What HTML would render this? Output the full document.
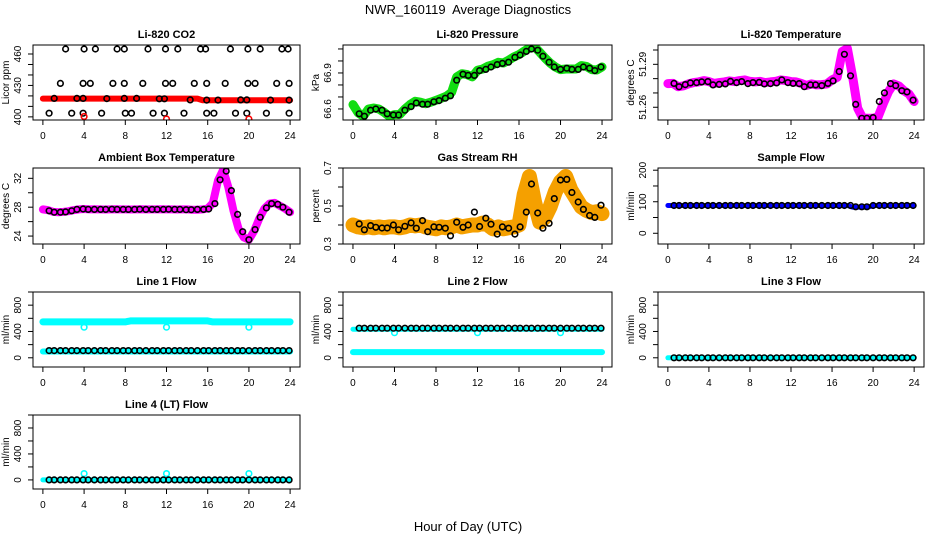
<!DOCTYPE html>
<html><head><meta charset="utf-8"><style>
html,body{margin:0;padding:0;background:#fff;}
svg{display:block;font-family:"Liberation Sans",sans-serif;}
</style></head><body>
<svg id="chart" width="936" height="540" viewBox="0 0 936 540">
<text x="468" y="14" text-anchor="middle" font-size="13">NWR_160119&#160; Average Diagnostics</text>
<text x="468" y="531" text-anchor="middle" font-size="13">Hour of Day (UTC)</text>
</svg>
<script>
const hours = [0.6,1.1,1.7,2.2,2.8,3.3,3.9,4.4,5,5.6,6.1,6.7,7.2,7.8,8.3,8.9,9.4,10,10.6,11.1,11.7,12.2,12.8,13.3,13.9,14.4,15,15.6,16.1,16.7,17.2,17.8,18.3,18.9,19.4,20,20.6,21.1,21.7,22.2,22.8,23.3,23.9];
const denseHours = [0,0.5,1,1.5,2,2.5,3,3.5,4,4.5,5,5.5,6,6.5,7,7.5,8,8.5,9,9.5,10,10.5,11,11.5,12,12.5,13,13.5,14,14.5,15,15.5,16,16.5,17,17.5,18,18.5,19,19.5,20,20.5,21,21.5,22,22.5,23,23.5,24];
const xTicks = [0,4,8,12,16,20,24];

const co2Band = [417.4,417.4,417.4,417.4,417.4,417.4,417.4,417.4,417.4,417.4,417.4,417.4,417.4,417.4,417.4,417.4,417.4,417.4,417.4,417.4,417.4,417.4,417.4,417.4,417.4,417.4,417.4,417.4,417.4,417.4,417.4,415.9,415.9,415.9,415.9,415.9,415.9,415.9,415.9,415.9,415.9,415.9,415.9,415.9,415.9,415.9,415.9,415.9,415.9];
const co2Hours = [2.2,4.0,5.1,7.2,7.9,10.2,11.9,13.1,15.3,15.8,18.2,19.9,21.1,23.2,23.8, 1.7,3.9,4.6,6.8,7.9,9.7,11.9,12.6,14.7,15.9,17.7,19.9,20.6,22.7,23.9, 0.6,2.8,3.9,5.7,8.0,8.6,10.7,11.8,13.7,15.9,16.6,18.7,19.8,21.7,23.9, 1.1,3.3,3.9,6.2,7.9,9.1,11.3,11.8,14.3,15.9,17,19.2,19.8,22.1,23.9];
const co2Vals = [464.8,464.8,464.8,464.8,464.8,464.8,464.8,464.8,464.8,464.8,464.8,464.8,464.8,464.8,464.8, 431.9,431.9,431.9,431.9,431.9,431.9,431.9,431.9,431.9,431.9,431.9,431.9,431.9,431.9,431.9, 403.5,403.5,403.5,403.5,403.5,403.5,403.5,403.5,403.5,403.5,403.5,403.5,403.5,403.5,403.5, 417.6,417.6,417.6,417.4,417.6,417.6,417.2,417.2,416.2,416,416,416.2,416.2,416,416];
const refHours = [4,12,20];
const co2RefVals = [400.3,398,398];

const pressureDense = [66.636,66.567,66.539,66.6,66.608,66.6,66.572,66.539,66.553,66.553,66.6,66.636,66.664,66.656,66.644,66.656,66.672,66.689,66.706,66.739,66.867,66.894,66.886,66.867,66.922,66.933,66.956,66.969,66.989,66.983,67.006,67.033,67.053,67.081,67.108,67.117,67.072,67.025,66.983,66.95,66.928,66.933,66.933,66.933,66.961,66.955,66.928,66.925,66.95];
const pressureBlack = [66.56,66.54,66.59,66.60,66.59,66.56,66.55,66.55,66.59,66.62,66.65,66.64,66.64,66.66,66.67,66.69,66.71,66.84,66.89,66.88,66.88,66.92,66.93,66.95,66.97,66.98,66.99,67.03,67.05,67.08,67.1,67.09,67.04,66.99,66.95,66.93,66.94,66.93,66.93,66.95,66.94,66.92,66.95];

const tempDense = [51.2765,51.2767,51.2744,51.2749,51.2763,51.2772,51.2777,51.2786,51.2779,51.2767,51.2772,51.2777,51.2784,51.2779,51.2786,51.2791,51.2781,51.2777,51.2781,51.2772,51.2777,51.2781,51.2791,51.2786,51.2779,51.2777,51.2767,51.2753,51.2763,51.2756,51.2758,51.2763,51.2791,51.2809,51.299,51.301,51.2814,51.2593,51.2523,51.2523,51.2523,51.2535,51.2628,51.2709,51.2763,51.2749,51.2716,51.2693,51.264];
const tempBlack = [51.2767,51.2744,51.2758,51.2770,51.2772,51.2777,51.2779,51.2756,51.2760,51.2763,51.2781,51.2772,51.2779,51.2765,51.2772,51.2774,51.2763,51.2765,51.2770,51.2791,51.2772,51.2767,51.2765,51.2744,51.2756,51.2756,51.2751,51.2767,51.2784,51.285,51.297,51.282,51.262,51.2523,51.2523,51.2528,51.264,51.270,51.2765,51.2751,51.2716,51.2707,51.265];

const ambientDense = [27.7,27.6,27.35,27.3,27.35,27.45,27.6,27.7,27.75,27.7,27.72,27.7,27.68,27.7,27.72,27.7,27.7,27.68,27.7,27.72,27.7,27.7,27.7,27.72,27.7,27.7,27.68,27.7,27.7,27.65,27.65,27.7,27.8,28.6,31.7,33.2,30.8,27.5,25.0,23.8,23.5,24.7,26.4,27.8,28.5,28.6,28.2,27.8,27.3];
const ambientBlack = [27.5,27.3,27.3,27.35,27.5,27.7,27.75,27.7,27.7,27.7,27.7,27.72,27.7,27.7,27.7,27.7,27.72,27.7,27.7,27.7,27.7,27.72,27.7,27.7,27.65,27.65,27.7,27.7,27.75,28.5,31.8,33.0,30.3,27.0,24.6,23.5,24.9,26.6,27.9,28.5,28.4,28.0,27.3];

const rhDense = [0.40,0.39,0.385,0.39,0.385,0.39,0.385,0.39,0.39,0.385,0.39,0.40,0.395,0.40,0.39,0.385,0.38,0.39,0.385,0.39,0.40,0.39,0.395,0.40,0.40,0.41,0.40,0.38,0.39,0.38,0.385,0.39,0.40,0.56,0.655,0.52,0.415,0.44,0.495,0.575,0.628,0.655,0.584,0.54,0.495,0.477,0.465,0.47,0.46];
const rhBlack = [0.406,0.375,0.397,0.388,0.384,0.384,0.40,0.375,0.393,0.411,0.383,0.423,0.365,0.39,0.388,0.383,0.343,0.415,0.388,0.40,0.468,0.392,0.436,0.404,0.352,0.39,0.383,0.352,0.39,0.468,0.616,0.463,0.383,0.409,0.539,0.637,0.64,0.571,0.521,0.482,0.45,0.44,0.504];

const sampleDense = [88,88,88,88,88,88,88,88,88,88,88,88,88,88,88,88,88,88,88,88,88,88,88,88,88,88,88,88,88,88,88,88,88,88,88,88,83,83,83,83,88,88,88,88,88,88,88,88,88];
const sampleBlack = [88,88,88,88,88,88,88,88,88,88,88,88,88,88,88,88,88,88,88,88,88,88,88,88,88,88,88,88,88,88,88,88,84,84,84,88,88,88,88,88,88,88,88];

const line1Upper = [545,545,545,545,545,545,545,545,545,545,545,545,545,545,545,545,545,560,560,560,560,560,560,560,560,560,560,560,560,560,560,560,560,545,545,545,545,545,545,545,545,545,545,545,545,545,545,545,545];
const line1Lower = [96,96,96,96,96,96,96,96,96,96,96,96,96,96,96,96,96,96,96,96,96,96,96,96,96,96,96,96,96,96,96,96,96,96,96,96,96,96,96,96,96,96,96,96,96,96,96,96,96];
const line1Black = [110,110,110,110,110,110,110,110,110,110,110,110,110,110,110,110,110,110,110,110,110,110,110,110,110,110,110,110,110,110,110,110,110,110,110,110,110,110,110,110,110,110,110];
const line1Ref = [465,465,465];

const line2Upper = [435,435,435,435,435,435,435,435,435,435,435,435,435,435,435,435,435,435,435,435,435,435,435,435,435,435,435,435,435,435,435,435,435,435,435,435,435,435,435,435,435,435,435,435,435,435,435,435,435];
const line2Lower = [87,87,87,87,87,87,87,87,87,87,87,87,87,87,87,87,87,87,87,87,87,87,87,87,87,87,87,87,87,87,87,87,87,87,87,87,87,87,87,87,87,87,87,87,87,87,87,87,87];
const line2Black = [450,450,450,450,450,450,450,450,450,450,450,450,450,450,450,450,450,450,450,450,450,450,450,450,450,450,450,450,450,450,450,450,450,450,450,450,450,450,450,450,450,450,450];
const line2Ref = [381,381,381];

const line3Cyan = [0,0,0,0,0,0,0,0,0,0,0,0,0,0,0,0,0,0,0,0,0,0,0,0,0,0,0,0,0,0,0,0,0,0,0,0,0,0,0,0,0,0,0,0,0,0,0,0,0];
const line3Black = [0,0,0,0,0,0,0,0,0,0,0,0,0,0,0,0,0,0,0,0,0,0,0,0,0,0,0,0,0,0,0,0,0,0,0,0,0,0,0,0,0,0,0];
const line4Cyan = [0,0,0,0,0,0,0,0,0,0,0,0,0,0,0,0,0,0,0,0,0,0,0,0,0,0,0,0,0,0,0,0,0,0,0,0,0,0,0,0,0,0,0,0,0,0,0,0,0];
const line4Black = [0,0,0,0,0,0,0,0,0,0,0,0,0,0,0,0,0,0,0,0,0,0,0,0,0,0,0,0,0,0,0,0,0,0,0,0,0,0,0,0,0,0,0];
const line4Ref = [97,97,97];

const co2Ticks=[400,410,420,430,440,450,460], co2Labels=[400,430,460];
const presTicks=[66.6,66.7,66.8,66.9,67.0,67.1], presLabels=[66.6,66.9];
const tempTicks=[51.26,51.27,51.28,51.29,51.30], tempLabels=[51.26,51.29];
const ambTicks=[24,26,28,30,32], ambLabels=[24,28,32];
const rhTicks=[0.3,0.4,0.5,0.6,0.7], rhLabels=[0.3,0.5,0.7];
const sampTicks=[0,50,100,150,200], sampLabels=[0,100,200];
const flowTicks=[0,200,400,600,800,1000], flowLabels=[0,400,800];

const NS='http://www.w3.org/2000/svg';
const svg=document.getElementById('chart');
const colX=[[33,300],[343,612],[658,924]];
const rowY=[[45,120],[168,244],[292,367],[415,489]];
function mk(tag,attrs,parent){const e=document.createElementNS(NS,tag);for(const k in attrs)e.setAttribute(k,attrs[k]);(parent||svg).appendChild(e);return e;}

function panel(name,title,ylabel,col,row,ymin,ymax,yTicks,yLabels,fmt,layers){
  const [x0,x1]=colX[col],[y0,y1]=rowY[row];
  const g=mk('g',{});
  
  
  const xs=h=>x0+(h+0.96)/25.92*(x1-x0);
  const ys=v=>y1-(v-ymin)/(ymax-ymin)*(y1-y0);
  const clipId='clip-'+name;
  const cp=mk('clipPath',{id:clipId},g);mk('rect',{x:x0,y:y0,width:x1-x0,height:y1-y0},cp);
  const t=mk('text',{x:(x0+x1)/2,y:y0-7,'text-anchor':'middle','font-size':11,'font-weight':'bold'},g);t.textContent=title;
  
  
  const data=mk('g',{'clip-path':'url(#'+clipId+')'},g);
  
  
  layers.forEach(L=>{
    if(L.type==='band'){
      const pts=L.x.map((h,i)=>xs(h).toFixed(1)+','+ys(L.y[i]).toFixed(1)).join(' ');
      const p=mk('polyline',{points:pts,fill:'none',stroke:L.color,'stroke-width':L.w,'stroke-linejoin':'round','stroke-linecap':'round'},data);
      
      
    } else {
      L.x.forEach((h,i)=>{
        const c=mk('circle',{cx:xs(h).toFixed(1),cy:ys(L.y[i]).toFixed(1),r:L.r||2.8,fill:'none',stroke:L.color,'stroke-width':1.6},data);
        
        
      });
    }
  });
  const box=mk('rect',{x:x0,y:y0,width:x1-x0,height:y1-y0,fill:'none',stroke:'#000','stroke-width':1},g);
  
  
  xTicks.forEach(v=>{
    mk('line',{x1:xs(v),x2:xs(v),y1:y1,y2:y1+5,stroke:'#000'},g);
    const tl=mk('text',{x:xs(v),y:y1+19,'text-anchor':'middle','font-size':10},g);tl.textContent=v;
    
    
  });
  yTicks.forEach(v=>{mk('line',{x1:x0-5,x2:x0,y1:ys(v),y2:ys(v),stroke:'#000'},g);});
  yLabels.forEach(v=>{
    const yl=mk('text',{transform:'translate('+(x0-12)+','+ys(v)+') rotate(-90)','text-anchor':'middle','font-size':10},g);yl.textContent=fmt(v);
    
    
  });
  const yt=mk('text',{transform:'translate('+(x0-24)+','+((y0+y1)/2)+') rotate(-90)','text-anchor':'middle','font-size':10},g);yt.textContent=ylabel;
  
  
}
const f0=v=>String(v), f1=v=>v.toFixed(1), f2=v=>v.toFixed(2);
panel('co2','Li-820 CO2','Licor ppm',0,0,397,468.6,co2Ticks,co2Labels,f0,[
  {type:'band',x:denseHours,y:co2Band,color:'#ff0000',w:6},
  {type:'pts',x:co2Hours,y:co2Vals,color:'#000'},
  {type:'pts',x:refHours,y:co2RefVals,color:'#ff0000'}]);
panel('pressure','Li-820 Pressure','kPa',1,0,66.508,67.133,presTicks,presLabels,f1,[
  {type:'band',x:denseHours,y:pressureDense,color:'#11dd11',w:9},
  {type:'pts',x:hours,y:pressureBlack,color:'#000'}]);
panel('temperature','Li-820 Temperature','degrees C',2,0,51.2511,51.3035,tempTicks,tempLabels,f2,[
  {type:'band',x:denseHours,y:tempDense,color:'#ff00ff',w:9},
  {type:'pts',x:hours,y:tempBlack,color:'#000'}]);
panel('ambient','Ambient Box Temperature','degrees C',0,1,22.9,33.43,ambTicks,ambLabels,f0,[
  {type:'band',x:denseHours,y:ambientDense,color:'#ff00ff',w:8},
  {type:'pts',x:hours,y:ambientBlack,color:'#000'}]);
panel('rh','Gas Stream RH','percent',1,1,0.3,0.7,rhTicks,rhLabels,f1,[
  {type:'band',x:denseHours,y:rhDense,color:'#f5a000',w:15},
  {type:'pts',x:hours,y:rhBlack,color:'#000'}]);
panel('sample-flow','Sample Flow','ml/min',2,1,-34,207,sampTicks,sampLabels,f0,[
  {type:'band',x:denseHours,y:sampleDense,color:'#0000ff',w:5},
  {type:'pts',x:hours,y:sampleBlack,color:'#000'}]);
panel('line1-flow','Line 1 Flow','ml/min',0,2,-140,1000,flowTicks,flowLabels,f0,[
  {type:'band',x:denseHours,y:line1Upper,color:'#00ffff',w:7},
  {type:'band',x:denseHours,y:line1Lower,color:'#00ffff',w:6},
  {type:'pts',x:refHours,y:line1Ref,color:'#00ffff'},
  {type:'pts',x:hours,y:line1Black,color:'#000'}]);
panel('line2-flow','Line 2 Flow','ml/min',1,2,-140,1000,flowTicks,flowLabels,f0,[
  {type:'band',x:denseHours,y:line2Upper,color:'#00ffff',w:5},
  {type:'band',x:denseHours,y:line2Lower,color:'#00ffff',w:6},
  {type:'pts',x:refHours,y:line2Ref,color:'#00ffff'},
  {type:'pts',x:hours,y:line2Black,color:'#000'}]);
panel('line3-flow','Line 3 Flow','ml/min',2,2,-140,1000,flowTicks,flowLabels,f0,[
  {type:'band',x:denseHours,y:line3Cyan,color:'#00ffff',w:5},
  {type:'pts',x:hours,y:line3Black,color:'#000'}]);
panel('line4-flow','Line 4 (LT) Flow','ml/min',0,3,-140,1000,flowTicks,flowLabels,f0,[
  {type:'band',x:denseHours,y:line4Cyan,color:'#00ffff',w:5},
  {type:'pts',x:refHours,y:line4Ref,color:'#00ffff'},
  {type:'pts',x:hours,y:line4Black,color:'#000'}]);
</script>
</body></html>
